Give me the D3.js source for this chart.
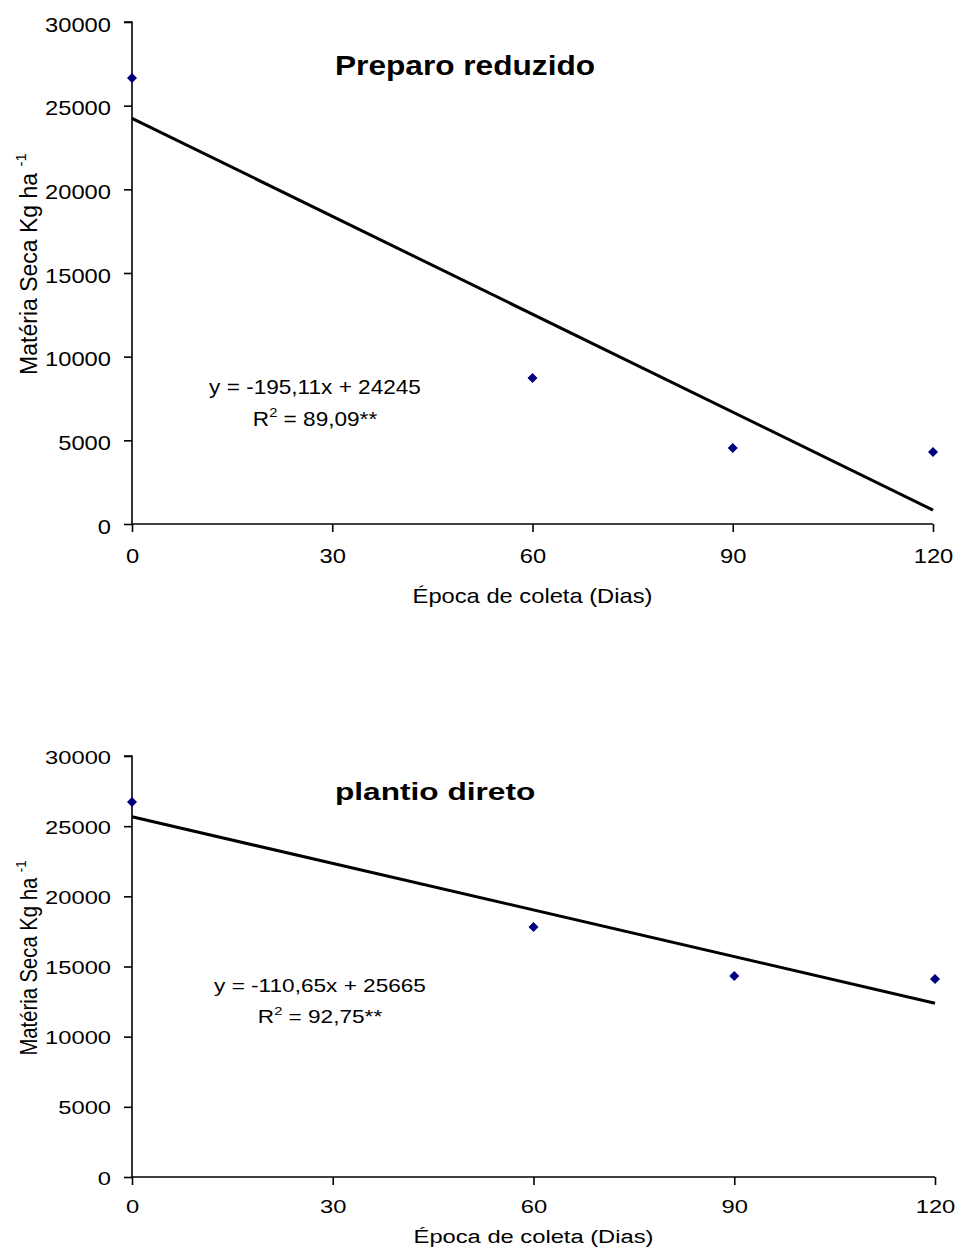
<!DOCTYPE html>
<html>
<head>
<meta charset="utf-8">
<script src="https://cdn.jsdelivr.net/npm/d3@7/dist/d3.min.js"></script>
<style>
  html, body { margin: 0; padding: 0; background: #fff; }
  svg { display: block; font-family: "Liberation Sans", Arial, sans-serif; }
</style>
</head>
<body>
<svg id="chart" width="957" height="1251"></svg>
<script>
const days = [0, 60, 90, 120];
const xTicks = [0, 30, 60, 90, 120];
const yTicks = [0, 5000, 10000, 15000, 20000, 25000, 30000];

const preparoValues = [26650, 8730, 4540, 4300];
const plantioValues = [26720, 17810, 14320, 14110];

const preparoTrend = [-195.11, 24245];
const plantioTrend = [-110.65, 25665];

const titles = ["Preparo reduzido", "plantio direto"];
const equations = ["y = -195,11x + 24245", "y = -110,65x + 25665"];
const r2Values = ["89,09**", "92,75**"];
const xLabel = "Época de coleta (Dias)";
const yLabel = "Matéria Seca Kg ha";

const svg = d3.select("#chart");

const panels = [
  { values: preparoValues, trend: preparoTrend, title: titles[0], eq: equations[0], r2: r2Values[0],
    x0: 132, x1: 933, y0: 524, y1: 22, sx: 1.13, sy: 1.0, ytdy: 9, xtTop: 24,
    titleX: 335, titleY: 75, eqX: 315, eqY: 394, r2Y: 426, xlabY: 603, ylabX: 37, ylabC: 264 },
  { values: plantioValues, trend: plantioTrend, title: titles[1], eq: equations[1], r2: r2Values[1],
    x0: 132, x1: 935, y0: 1177, y1: 756, sx: 1.13, sy: 0.88, ytdy: 8, xtTop: 23,
    titleX: 335, titleY: 800, eqX: 320, eqY: 992, r2Y: 1023, xlabY: 1243, ylabX: 37, ylabC: 958 }
];

function txt(g, x, y, sx, sy, size, anchor) {
  return g.append("text")
    .attr("transform", `translate(${x},${y}) scale(${sx},${sy})`)
    .attr("text-anchor", anchor).attr("font-size", size).attr("fill", "#000");
}

panels.forEach(p => {
  const g = svg.append("g");
  const x = d3.scaleLinear().domain([0, 120]).range([p.x0, p.x1]);
  const y = d3.scaleLinear().domain([0, 30000]).range([p.y0, p.y1]);

  const yAxis = g.append("g").attr("transform", `translate(${p.x0},0)`)
    .call(d3.axisLeft(y).tickValues(yTicks).tickSize(8).tickPadding(12).tickFormat(d3.format("d")));
  const xAxis = g.append("g").attr("transform", `translate(0,${p.y0})`)
    .call(d3.axisBottom(x).tickValues(xTicks).tickSize(8).tickPadding(14).tickFormat(d3.format("d")));
  [yAxis, xAxis].forEach(a => {
    a.select(".domain").attr("stroke", "#000").attr("stroke-width", 1.6);
    a.selectAll(".tick line").attr("stroke", "#000").attr("stroke-width", 1.6);
    a.selectAll(".tick text").attr("fill", "#000").style("font-size", "21px")
      .style("font-family", "'Liberation Sans', Arial, sans-serif")
      .attr("transform", `scale(${p.sx},${p.sy})`);
  });
  yAxis.selectAll(".tick text").attr("x", -21 / p.sx).attr("dy", p.ytdy);
  xAxis.selectAll(".tick text").attr("y", p.xtTop / p.sy);
  yAxis.select(".domain").attr("d", `M-8,${y(30000)}H0V${y(0)}`);
  xAxis.select(".domain").attr("d", `M${x(0)},0H${x(120)}`);

  // trend line
  const tl = d => p.trend[0] * d + p.trend[1];
  g.append("line")
    .attr("x1", x(0)).attr("y1", y(tl(0)))
    .attr("x2", x(120)).attr("y2", y(tl(120)))
    .attr("stroke", "#000").attr("stroke-width", 3);

  // points
  g.selectAll("path.pt").data(days.map((d, i) => [d, p.values[i]])).enter()
    .append("path").attr("class", "pt")
    .attr("d", d3.symbol(d3.symbolSquare, 50))
    .attr("transform", d => `translate(${x(d[0])},${y(d[1])}) rotate(45)`)
    .attr("fill", "#000080");

  // title
  txt(g, p.titleX, p.titleY, p.sx, p.sy, 28, "start").attr("font-weight", "bold").text(p.title);

  // equation
  txt(g, p.eqX, p.eqY, p.sx, p.sy, 20, "middle").text(p.eq);
  const r = txt(g, p.eqX, p.r2Y, p.sx, p.sy, 20, "middle");
  r.append("tspan").text("R");
  r.append("tspan").attr("dy", -9).attr("font-size", 13).text("2");
  r.append("tspan").attr("dy", 9).text(" = " + p.r2);

  // x label
  txt(g, (p.x0 + p.x1) / 2, p.xlabY, p.sx, p.sy, 21, "middle").text(xLabel);

  // y label
  const yl = g.append("text")
    .attr("transform", `translate(${p.ylabX},${p.ylabC}) rotate(-90) scale(${p.sy},1)`)
    .attr("text-anchor", "middle").attr("font-size", 23).attr("fill", "#000");
  yl.append("tspan").text(yLabel + " ");
  yl.append("tspan").attr("dy", -11).attr("font-size", 15).text("-1");
});
</script>
</body>
</html>
